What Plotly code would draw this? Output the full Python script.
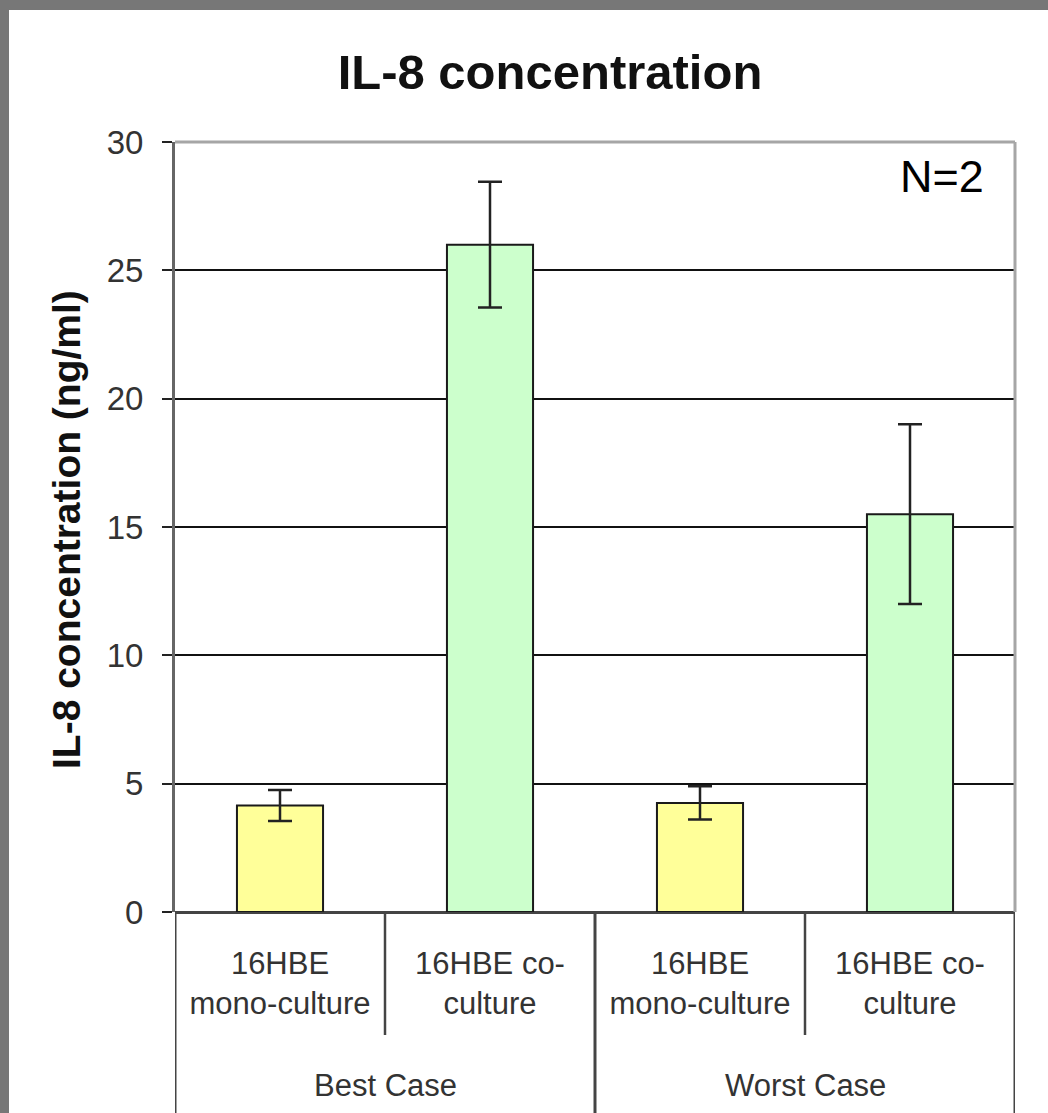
import plotly.graph_objects as go

# ---- data ----
conditions = ["16HBE<br>mono-culture", "16HBE co-<br>culture",
              "16HBE<br>mono-culture", "16HBE co-<br>culture"]
groups = ["Best Case", "Worst Case"]
il8_values = [4.15, 26.0, 4.25, 15.5]
il8_errors = [0.6, 2.45, 0.65, 3.5]
y_ticks = [0, 5, 10, 15, 20, 25, 30]

bar_colors = ["#FFFF99", "#CCFFCC", "#FFFF99", "#CCFFCC"]
positions = list(range(len(conditions)))

W, H = 1048, 1113
ML, MR, MT, MB = 175, 33, 142, 201
PW, PH = W - ML - MR, H - MT - MB


def px_x(px):
    return (px - ML) / PW


def px_y(py):
    return (H - MB - py) / PH


fig = go.Figure()
fig.add_trace(go.Bar(
    x=positions, y=il8_values, width=0.41,
    marker=dict(color=bar_colors, line=dict(color="#1a1a1a", width=2)),
    error_y=dict(type="data", array=il8_errors, visible=True,
                 color="#222222", thickness=2.5, width=12),
    showlegend=False,
))

FONT = "Liberation Sans, Arial, sans-serif"

shapes = []
# grey page border (top and left)
shapes.append(dict(type="rect", xref="paper", yref="paper",
                   x0=px_x(0), x1=px_x(9), y0=px_y(H), y1=px_y(0),
                   fillcolor="#777777", line=dict(width=0), layer="below"))
shapes.append(dict(type="rect", xref="paper", yref="paper",
                   x0=px_x(0), x1=px_x(W), y0=px_y(10), y1=px_y(0),
                   fillcolor="#777777", line=dict(width=0), layer="below"))
# plot-area border (grey) on top and right
shapes.append(dict(type="line", xref="paper", yref="paper",
                   x0=0, x1=1, y0=1, y1=1, line=dict(color="#a6a6a6", width=3), layer="above"))
shapes.append(dict(type="line", xref="paper", yref="paper",
                   x0=1, x1=1, y0=0, y1=1, line=dict(color="#a6a6a6", width=3), layer="above"))
# category dividers
for xv, ybot in [(-0.5, px_y(H)), (1.5, px_y(H)), (3.5, px_y(H)),
                 (0.5, px_y(1035)), (2.5, px_y(1035))]:
    shapes.append(dict(type="line", xref="x", yref="paper",
                       x0=xv, x1=xv, y0=0, y1=ybot,
                       line=dict(color="#444444", width=3 if xv in (-0.5, 1.5, 3.5) else 2.5)))

annotations = [
    dict(text="N=2", xref="paper", yref="paper", x=px_x(942), y=px_y(177),
         xanchor="center", yanchor="middle", showarrow=False,
         font=dict(family=FONT, size=45, color="#000000")),
    dict(text="<b>IL-8 concentration (ng/ml)</b>", xref="paper", yref="paper",
         x=px_x(66), y=px_y(530), textangle=-90,
         xanchor="center", yanchor="middle", showarrow=False,
         font=dict(family=FONT, size=39, color="#111111")),
]
for gi, g in enumerate(groups):
    annotations.append(dict(text=g, xref="x", yref="paper", x=gi * 2 + 0.5, y=px_y(1085),
                            xanchor="center", yanchor="middle", showarrow=False,
                            font=dict(family=FONT, size=31, color="#333333")))

fig.update_layout(
    width=W, height=H,
    margin=dict(l=ML, r=MR, t=MT, b=MB, pad=0),
    paper_bgcolor="#ffffff", plot_bgcolor="#ffffff",
    title=dict(text="<b>IL-8 concentration</b>", x=550 / W, xref="container",
               xanchor="center", y=1 - 72 / H, yanchor="middle",
               font=dict(family=FONT, size=49, color="#111111")),
    xaxis=dict(range=[-0.5, 3.5], tickvals=positions, ticktext=conditions,
               showgrid=False, zeroline=False, ticks="", showline=False,
               ticklabelstandoff=30,
               tickfont=dict(family=FONT, size=31, color="#333333")),
    yaxis=dict(range=[0, 30], tickvals=y_ticks, showgrid=True,
               gridcolor="#111111", gridwidth=2,
               zeroline=True, zerolinecolor="#444444", zerolinewidth=3,
               showline=True, linecolor="#666666", linewidth=3,
               ticks="outside", ticklen=10, tickwidth=2, tickcolor="#222222",
               ticklabelstandoff=12,
               tickfont=dict(family=FONT, size=33, color="#333333")),
    shapes=shapes,
    annotations=annotations,
    bargap=0.59,
)

fig.write_html("out.html", config={"displayModeBar": False},
               post_script="document.body.style.margin='0';")
